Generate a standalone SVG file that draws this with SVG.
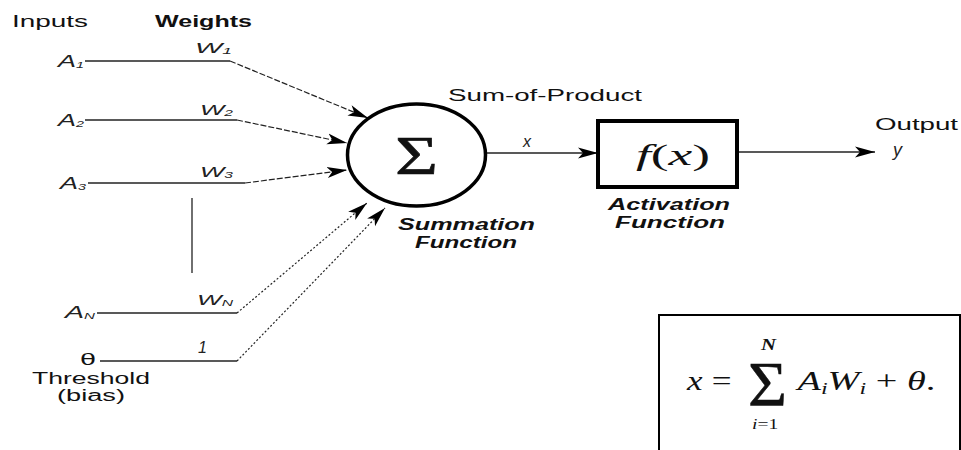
<svg xmlns="http://www.w3.org/2000/svg" width="961" height="450" viewBox="0 0 961 450">
  <style>
    .lbl { font-family: "Liberation Sans", Arial, sans-serif; font-size: 16px; fill: #111; }
    .bold { font-weight: bold; }
    .bi { font-weight: bold; font-style: italic; }
    .var { font-family: "Liberation Sans", Arial, sans-serif; font-style: italic; fill: #222; }
    .math { font-family: "Liberation Serif", "Times New Roman", serif; fill: #111; }
    .wire { stroke: #222; stroke-width: 1.3; fill: none; }
    .dash { stroke: #222; stroke-width: 1.2; fill: none; stroke-dasharray: 6 2; }
    .dot { stroke: #222; stroke-width: 1.2; fill: none; stroke-dasharray: 2 2; }
  </style>
  <defs>
    <marker id="arrow" markerUnits="userSpaceOnUse" markerWidth="22" markerHeight="14" refX="20" refY="7" orient="auto">
      <path d="M0,1.5 L20,7 L0,12.5 L5,7 Z" fill="#000"/>
    </marker>
  </defs>
  <rect width="961" height="450" fill="#fff"/>

  <!-- column headings -->
  <g id="headings">
    <text class="lbl" x="12" y="27" textLength="76" lengthAdjust="spacingAndGlyphs">Inputs</text>
    <text class="lbl bold" x="155" y="27" textLength="97" lengthAdjust="spacingAndGlyphs">Weights</text>
  </g>

  <!-- inputs -->
  <g id="input-a1">
    <text class="var" x="58" y="67" font-size="17" textLength="26" lengthAdjust="spacingAndGlyphs">A<tspan font-size="9" dy="1">1</tspan></text>
  </g>
  <g id="input-a2">
    <text class="var" x="58" y="126" font-size="17" textLength="26" lengthAdjust="spacingAndGlyphs">A<tspan font-size="9" dy="1">2</tspan></text>
  </g>
  <g id="input-a3">
    <text class="var" x="60" y="189" font-size="17" textLength="26" lengthAdjust="spacingAndGlyphs">A<tspan font-size="9" dy="1">3</tspan></text>
  </g>
  <g id="input-an">
    <text class="var" x="65" y="318" font-size="17" textLength="30" lengthAdjust="spacingAndGlyphs">A<tspan font-size="9" dy="1">N</tspan></text>
  </g>
  <g id="input-theta">
    <text class="lbl" x="80" y="365" font-size="16" textLength="16" lengthAdjust="spacingAndGlyphs">θ</text>
    <text class="lbl" x="32" y="384" font-size="14" textLength="118" lengthAdjust="spacingAndGlyphs">Threshold</text>
    <text class="lbl" x="57" y="401" font-size="14" textLength="68" lengthAdjust="spacingAndGlyphs">(bias)</text>
  </g>

  <!-- weights -->
  <g id="weights">
    <text class="var" x="195" y="53" font-size="15" textLength="37" lengthAdjust="spacingAndGlyphs">W<tspan font-size="9" dy="1">1</tspan></text>
    <text class="var" x="200" y="115" font-size="15" textLength="33" lengthAdjust="spacingAndGlyphs">W<tspan font-size="9" dy="1">2</tspan></text>
    <text class="var" x="200" y="177" font-size="15" textLength="33" lengthAdjust="spacingAndGlyphs">W<tspan font-size="9" dy="1">3</tspan></text>
    <text class="var" x="197" y="305" font-size="15" textLength="36" lengthAdjust="spacingAndGlyphs">W<tspan font-size="9" dy="1">N</tspan></text>
    <text class="var" x="198" y="353" font-size="16">1</text>
  </g>

  <!-- connectors -->
  <g id="connectors">
    <path class="wire" d="M85,61 H230"/>
    <path class="dash" d="M230,61 L368,118" marker-end="url(#arrow)"/>
    <path class="wire" d="M85,120 H237"/>
    <path class="dash" d="M237,120 L347,143" marker-end="url(#arrow)"/>
    <path class="wire" d="M88,183 H245"/>
    <path class="dash" d="M245,183 L347,170" marker-end="url(#arrow)"/>
    <path class="wire" d="M192,198 V273" stroke-width="2"/>
    <path class="wire" d="M97,313 H237"/>
    <path class="dot" d="M237,313 L367,203" marker-end="url(#arrow)"/>
    <path class="wire" d="M100,361 H237"/>
    <path class="dot" d="M237,361 L385,208" marker-end="url(#arrow)"/>
    <path class="wire" d="M487,153 H598" marker-end="url(#arrow)"/>
    <path class="wire" d="M737,152 H875" marker-end="url(#arrow)"/>
  </g>

  <!-- summation node -->
  <g id="summation">
    <ellipse cx="416.5" cy="155" rx="69" ry="51" fill="#fff" stroke="#000" stroke-width="3.5"/>
    <text class="math" x="395" y="174" font-size="54" textLength="43" lengthAdjust="spacingAndGlyphs" stroke="#111" stroke-width="0.6">Σ</text>
    <text class="lbl" x="448" y="101" textLength="194" lengthAdjust="spacingAndGlyphs">Sum-of-Product</text>
    <text class="lbl bi" x="398" y="230" textLength="137" lengthAdjust="spacingAndGlyphs">Summation</text>
    <text class="lbl bi" x="415" y="248" textLength="102" lengthAdjust="spacingAndGlyphs">Function</text>
    <text class="var" x="523" y="147" font-size="16">x</text>
  </g>

  <!-- activation node -->
  <g id="activation">
    <rect x="598" y="121" width="139" height="66" fill="#fff" stroke="#000" stroke-width="4"/>
    <text class="math" x="636" y="165" font-size="30" textLength="74" lengthAdjust="spacingAndGlyphs"><tspan font-style="italic">f</tspan>(<tspan font-style="italic">x</tspan>)</text>
    <text class="lbl bi" x="608" y="210" textLength="122" lengthAdjust="spacingAndGlyphs">Activation</text>
    <text class="lbl bi" x="615" y="228" textLength="110" lengthAdjust="spacingAndGlyphs">Function</text>
  </g>

  <!-- output -->
  <g id="output">
    <text class="lbl" x="875" y="130" textLength="83" lengthAdjust="spacingAndGlyphs">Output</text>
    <text class="var" x="893" y="156" font-size="18">y</text>
  </g>

  <!-- weighted-sum formula -->
  <g id="formula">
    <rect x="659" y="315" width="301" height="150" fill="#fff" stroke="#000" stroke-width="2"/>
    <g transform="translate(687,390) scale(1.3,1)">
      <text class="math" x="0" y="0" font-size="27" font-style="italic">x</text>
      <text class="math" x="19" y="0" font-size="27">=</text>
      <text class="math" x="47" y="16" font-size="64" textLength="30" lengthAdjust="spacingAndGlyphs" stroke="#111" stroke-width="0.5">Σ</text>
      <text class="math" x="57" y="-40" font-size="16" font-style="italic" font-weight="bold">N</text>
      <text class="math" x="50" y="39" font-size="15"><tspan font-style="italic">i</tspan>=1</text>
      <text class="math" x="85" y="0" font-size="27" textLength="106" lengthAdjust="spacingAndGlyphs"><tspan font-style="italic">A</tspan><tspan font-style="italic" font-size="17" dy="4">i</tspan><tspan font-style="italic" dy="-4">W</tspan><tspan font-style="italic" font-size="17" dy="4">i</tspan><tspan dy="-4"> + </tspan><tspan font-style="italic">θ</tspan>.</text>
    </g>
  </g>
</svg>
